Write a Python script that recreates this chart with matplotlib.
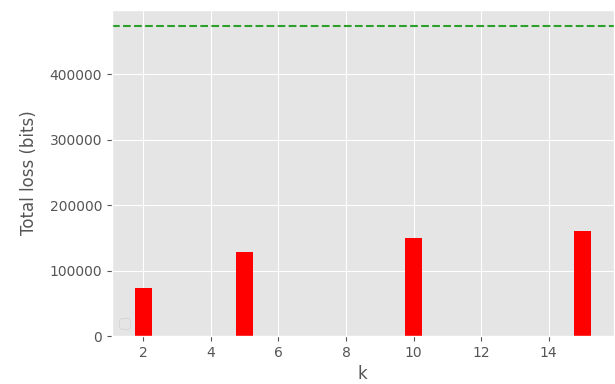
import matplotlib

matplotlib.use("Agg")
import matplotlib.pyplot as plt

plt.style.use("ggplot")

# bar data
k_values = [2, 5, 10, 15]
total_loss = [73000, 128000, 150500, 160000]
baseline_loss = 474500

fig, ax = plt.subplots(figsize=(6.15, 3.84), dpi=100)
fig.subplots_adjust(left=0.182, right=0.998, top=0.974, bottom=0.125)

ax.bar(k_values, total_loss, width=0.5, color="red")
ax.axhline(baseline_loss, color="#2ca02c", linestyle="--", linewidth=1.5)
ax.legend(handles=[], loc="lower left")

ax.set_xlabel("k")
ax.set_ylabel("Total loss (bits)", labelpad=8)

fig.savefig("out.png", dpi=100)
